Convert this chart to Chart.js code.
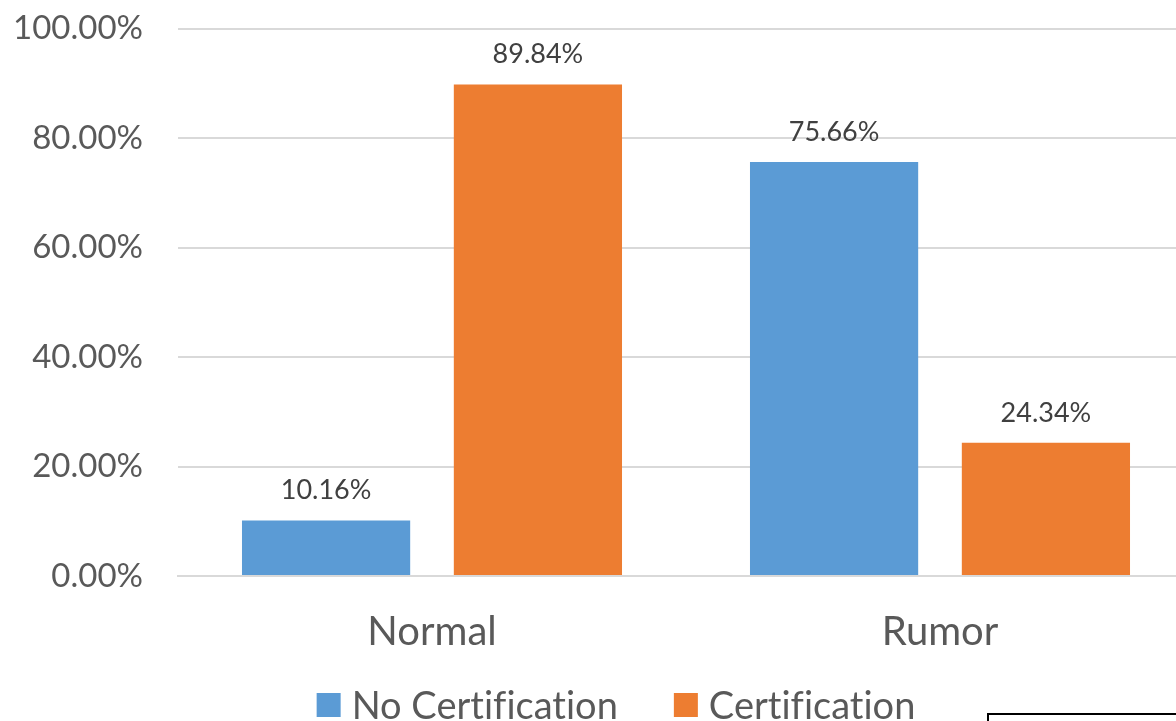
<!DOCTYPE html>
<html>
<head>
<meta charset="utf-8">
<script src="https://cdn.jsdelivr.net/npm/chart.js@4.4.1/dist/chart.umd.min.js"></script>
<style>
  html, body { margin: 0; padding: 0; background: #ffffff; overflow: hidden; width: 1176px; height: 721px; }
  #wrap { position: absolute; left: 0; top: -26px; width: 1194px; height: 747px; }
</style>
</head>
<body>
<div id="wrap"><canvas id="chart" width="1194" height="747"></canvas></div>
<script>
// Share of posts with / without certification, by post type
const categories = ['Normal', 'Rumor'];
const noCertification = [10.16, 75.66];
const certification = [89.84, 24.34];
const seriesNames = ['No Certification', 'Certification'];
const seriesColors = ['#5B9BD5', '#ED7D31'];
const yTicks = [0, 20, 40, 60, 80, 100];

const FONT = 'Lato, "Open Sans", sans-serif';
const TEXT_GREY = '#595959';
const TOP_CROP = 26; // canvas rows hidden above the page edge

function plainText(ctx) {
  // keep "ti" etc. as separate glyphs
  try { ctx.textRendering = 'optimizeSpeed'; } catch (e) {}
  try { ctx.letterSpacing = '0.01px'; } catch (e) {}
}

// Value labels above each bar
const valueLabels = {
  id: 'valueLabels',
  afterDatasetsDraw(chart) {
    const ctx = chart.ctx;
    ctx.save();
    plainText(ctx);
    ctx.font = '27px ' + FONT;
    ctx.fillStyle = '#404040';
    ctx.textAlign = 'center';
    ctx.textBaseline = 'alphabetic';
    chart.data.datasets.forEach((ds, i) => {
      chart.getDatasetMeta(i).data.forEach((bar, j) => {
        ctx.fillText(ds.data[j].toFixed(2) + '%', bar.x, bar.y - 21);
      });
    });
    ctx.restore();
  }
};

// Legend row under the category labels
const bottomLegend = {
  id: 'bottomLegend',
  afterDraw(chart) {
    const ctx = chart.ctx;
    const box = 24, textGap = 11, itemGap = 56;
    const baseline = 719 + TOP_CROP, centerX = 616;
    ctx.save();
    plainText(ctx);
    ctx.font = '38px ' + FONT;
    ctx.textBaseline = 'alphabetic';
    ctx.textAlign = 'left';
    const items = chart.data.datasets.map(ds => ({
      text: ds.label, color: ds.backgroundColor, w: ctx.measureText(ds.label).width
    }));
    const total = items.reduce((s, it) => s + box + textGap + it.w, 0) + itemGap * (items.length - 1);
    let x = centerX - total / 2;
    items.forEach(it => {
      ctx.fillStyle = it.color;
      ctx.fillRect(x, baseline - 26, box, box);
      x += box + textGap;
      ctx.fillStyle = TEXT_GREY;
      ctx.fillText(it.text, x, baseline);
      x += it.w + itemGap;
    });
    ctx.restore();
  }
};

// Thin frame peeking in at the lower right
const cornerFrame = {
  id: 'cornerFrame',
  afterDraw(chart) {
    const ctx = chart.ctx;
    ctx.save();
    ctx.strokeStyle = '#000000';
    ctx.lineWidth = 2;
    ctx.strokeRect(988, 714 + TOP_CROP, 400, 100);
    ctx.restore();
  }
};

const textPlugin = {
  id: 'plainTextAll',
  beforeDraw(chart) { plainText(chart.ctx); }
};

new Chart(document.getElementById('chart'), {
  type: 'bar',
  data: {
    labels: categories,
    datasets: [
      { label: seriesNames[0], data: noCertification, backgroundColor: seriesColors[0] },
      { label: seriesNames[1], data: certification, backgroundColor: seriesColors[1] }
    ]
  },
  options: {
    responsive: false,
    animation: false,
    devicePixelRatio: 1,
    layout: { padding: { top: 2, right: 0, left: 0, bottom: 75 } },
    datasets: { bar: { categoryPercentage: 0.834, barPercentage: 0.794 } },
    scales: {
      x: {
        afterFit(axis) { axis.height = 70; },
        grid: { display: false, drawTicks: false },
        border: { display: true, color: '#d9d9d9', width: 2 },
        ticks: { font: { family: FONT, size: 40 }, color: TEXT_GREY, padding: 32 }
      },
      y: {
        min: 0,
        max: 100,
        afterFit(axis) { axis.width = 178; },
        afterBuildTicks(axis) { axis.ticks = yTicks.map(v => ({ value: v })); },
        grid: { color: '#d9d9d9', lineWidth: 2, drawTicks: false },
        border: { display: false },
        ticks: {
          font: { family: FONT, size: 33 },
          color: TEXT_GREY,
          padding: 35,
          callback: v => v.toFixed(2) + '%'
        }
      }
    },
    plugins: {
      legend: { display: false },
      tooltip: { enabled: false }
    }
  },
  plugins: [textPlugin, valueLabels, bottomLegend, cornerFrame]
});
</script>
</body>
</html>
